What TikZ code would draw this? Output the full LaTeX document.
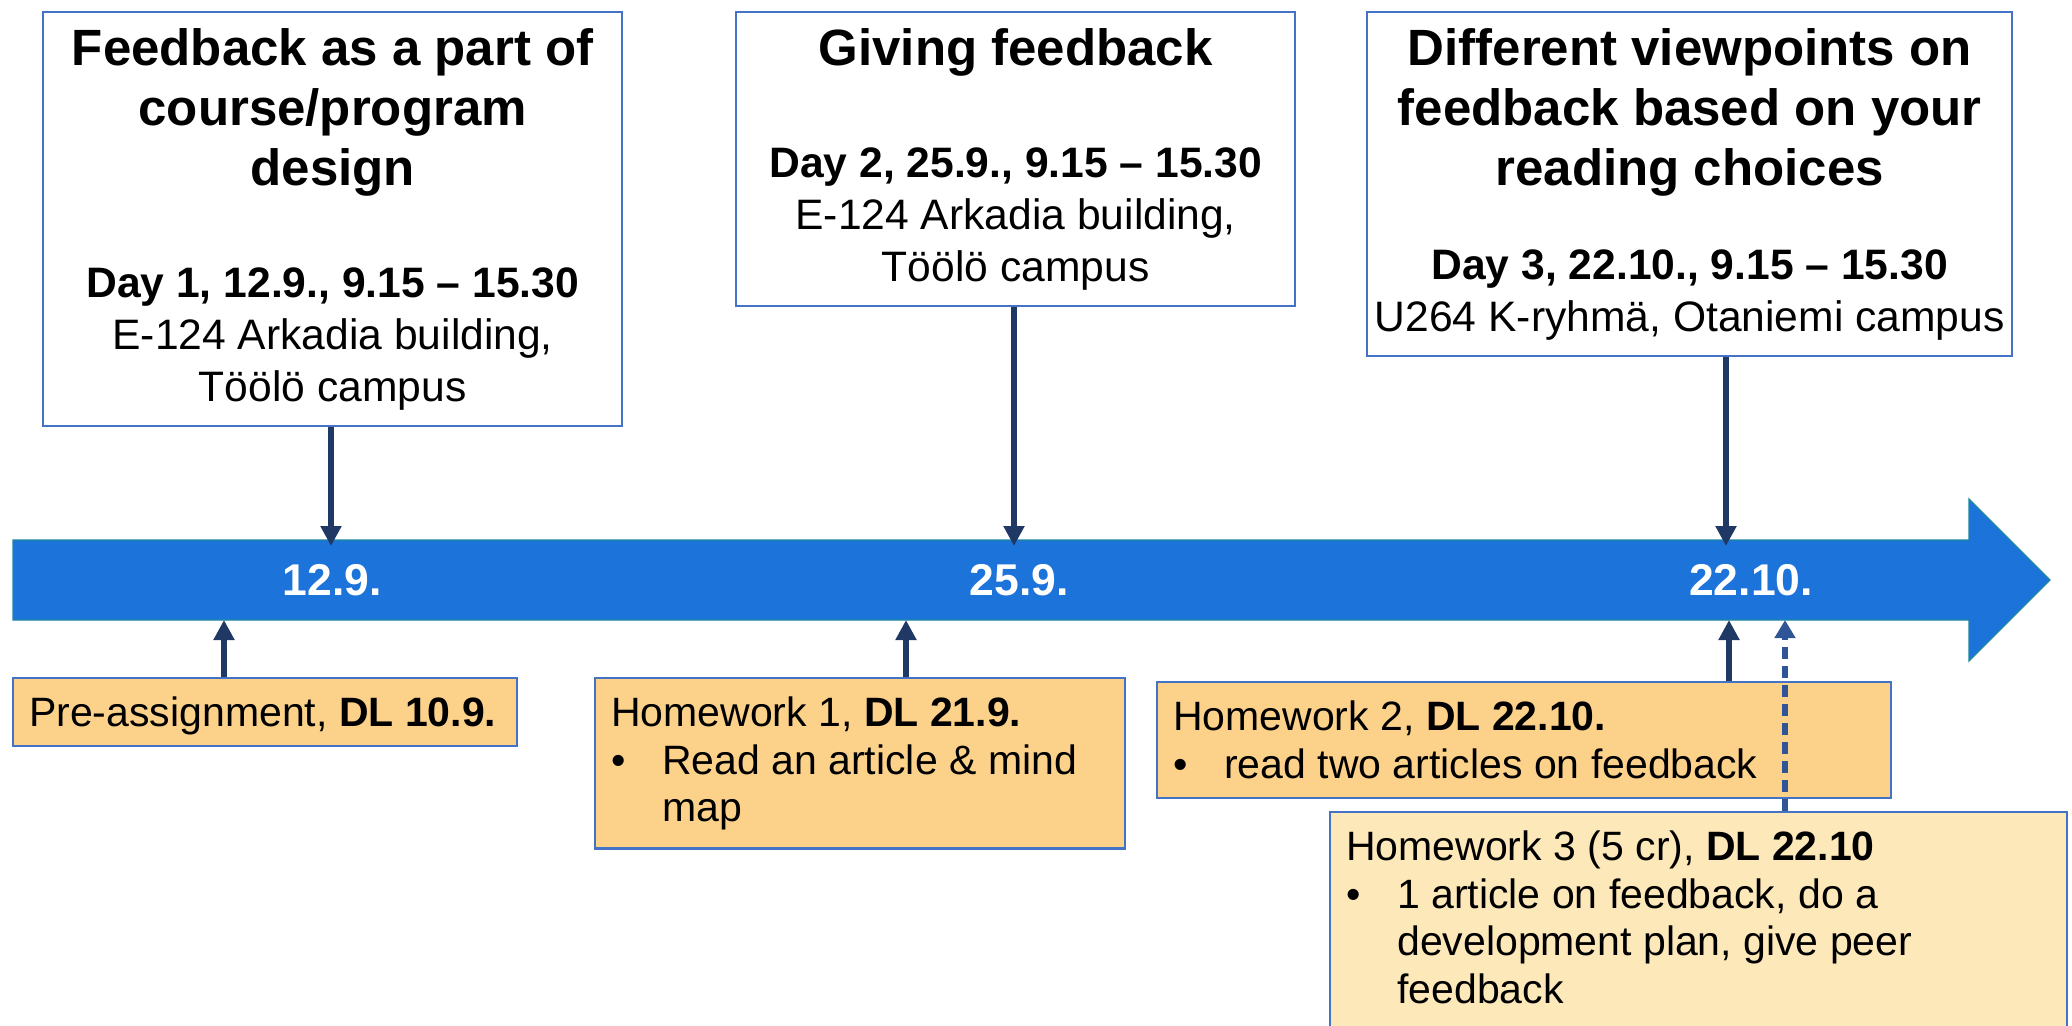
\documentclass[tikz,border=0pt]{standalone}
\usepackage{fontspec}
\setmainfont{Liberation Sans}
\usetikzlibrary{arrows.meta}

\definecolor{barblue}{RGB}{28,115,217}
\definecolor{baredge}{RGB}{30,135,160}
\definecolor{navy}{RGB}{32,56,100}
\definecolor{boxblue}{RGB}{68,114,196}
\definecolor{dashblue}{RGB}{47,85,151}
\definecolor{hwfill}{RGB}{252,209,138}
\definecolor{hwpale}{RGB}{253,232,185}

\newcommand\titlefont{\fontsize{25.5}{30}\selectfont\bfseries}
\newcommand\datefont{\fontsize{21.3}{26}\selectfont}
\newcommand\hwfont{\fontsize{20.5}{23.8}\selectfont}
\newcommand\hwstrut{\rule[-4.4pt]{0pt}{23pt}}
\newcommand\bulitem[1]{\par\hangindent=25.5pt\hangafter=1\noindent
    \makebox[25.5pt][l]{\textbullet}#1\hwstrut\par}

\begin{document}
\begin{tikzpicture}[
    x=0.5pt,
    y=-0.5pt,
    line cap=butt,
    daybox/.style={draw=boxblue,line width=1.2pt,fill=white,anchor=north west,
        align=flush center,inner xsep=1pt,inner ysep=8pt},
    hwbox/.style={draw=boxblue,line width=1.2pt,fill=hwfill,anchor=north west,
        align=flush left,inner xsep=8pt,inner ysep=5.5pt,font=\hwfont,
        execute at begin node=\hwstrut},
    datelbl/.style={text=white,font=\fontsize{22.25}{26}\selectfont\bfseries,inner sep=0pt},
    link/.style={draw=navy,line width=3.3pt,-{Triangle[length=10pt,width=10pt]}},
    dlink/.style={draw=dashblue,line width=2.8pt,dash pattern=on 6pt off 3.5pt,
        -{Triangle[length=9pt,width=10pt]}}
]

\path[use as bounding box,clip] (0,0) rectangle (2072,1025);

% -------------------------------------------------
% Timeline arrow
% -------------------------------------------------

\draw[fill=barblue,draw=baredge,line width=0.6pt,line join=miter]
    (13,540) -- (1969,540) -- (1969,499) -- (2050,580)
    -- (1969,661) -- (1969,620) -- (13,620) -- cycle;

\node[datelbl] (d1) at (332,580)  {12.9.};
\node[datelbl] (d2) at (1019,580) {25.9.};
\node[datelbl] (d3) at (1751,580) {22.10.};

% end points on the bar
\coordinate (t1) at (331,546);
\coordinate (t2) at (1014,546);
\coordinate (t3) at (1726,546);

\coordinate (b1) at (224,620);
\coordinate (b2) at (906,620);
\coordinate (b3) at (1729,620);
\coordinate (b4) at (1785,620);

% -------------------------------------------------
% Contact days
% -------------------------------------------------

\node[daybox,text width=287.5pt] (day1) at (42,11) {%
    {\titlefont Feedback as a part of\\course/program\\design\par}
    \vspace{30pt}
    {\datefont\textbf{Day 1, 12.9., 9.15 -- 15.30}\\E-124 Arkadia building,\\Töölö campus\par}};

\node[daybox,text width=277.5pt] (day2) at (735,11) {%
    {\titlefont Giving feedback\par}
    \vspace{30pt}
    {\datefont\textbf{Day 2, 25.9., 9.15 -- 15.30}\\E-124 Arkadia building,\\Töölö campus\par}};

\node[daybox,text width=320.5pt] (day3) at (1366,11) {%
    {\titlefont Different viewpoints on\\feedback based on your\\reading choices\par}
    \vspace{21pt}
    {\datefont\textbf{Day 3, 22.10., 9.15 -- 15.30}\\U264 K-ryhmä, Otaniemi campus\par}};

% -------------------------------------------------
% Assignments
% -------------------------------------------------

\node[hwbox,text width=236pt] (pre) at (12,677) {Pre-assignment, \textbf{DL 10.9.}};

\node[hwbox,text width=249pt] (hw1) at (594,677) {Homework 1, \textbf{DL 21.9.}
    \bulitem{Read an article \& mind\newline map\rule[-8pt]{0pt}{1pt}}};

\node[hwbox,text width=351pt] (hw2) at (1156,681) {Homework 2, \textbf{DL 22.10.}
    \bulitem{read two articles on feedback}};

\node[hwbox,fill=hwpale,text width=352.5pt] (hw3) at (1329,811) {Homework 3 (5 cr), \textbf{DL 22.10}
    \bulitem{1 article on feedback, do a\newline development plan, give peer\newline feedback\rule[-24pt]{0pt}{1pt}}};

% -------------------------------------------------
% Arrows
% -------------------------------------------------

\draw[link] (day1.south -| t1) -- (t1);
\draw[link] (day2.south -| t2) -- (t2);
\draw[link] (day3.south -| t3) -- (t3);

\draw[link]  (pre.north -| b1) -- (b1);
\draw[link]  (hw1.north -| b2) -- (b2);
\draw[link]  (hw2.north -| b3) -- (b3);
\draw[dlink] (hw3.north -| b4) -- (b4);

\end{tikzpicture}
\end{document}
